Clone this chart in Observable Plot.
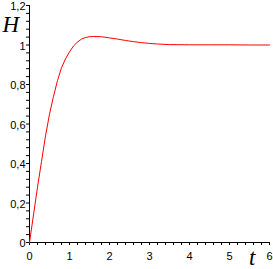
<!DOCTYPE html>
<html>
<head>
<meta charset="utf-8">
<script src="https://cdn.jsdelivr.net/npm/d3@7"></script>
<script src="https://cdn.jsdelivr.net/npm/@observablehq/plot@0.6"></script>
<style>
  html, body { margin: 0; padding: 0; background: #fff; }
  #chart svg { display: block; }
</style>
</head>
<body>
<div id="chart"></div>
<script>
const tValues = [0, 0.1, 0.2, 0.3, 0.4, 0.5, 0.6, 0.7, 0.8, 0.9, 1.0, 1.1, 1.2, 1.3, 1.4, 1.5, 1.6, 1.8, 2.0, 2.2, 2.4, 2.6, 2.8, 3.0, 3.2, 3.5, 4.0, 4.5, 5.0, 5.5, 6.0];
const hValues = [0, 0.14, 0.28, 0.41, 0.54, 0.65, 0.74, 0.82, 0.885, 0.93, 0.965, 0.995, 1.015, 1.03, 1.038, 1.042, 1.043, 1.042, 1.036, 1.03, 1.023, 1.017, 1.012, 1.008, 1.005, 1.002, 1.001, 1.001, 1.001, 1.0, 1.0];
const xTickValues = [0, 1, 2, 3, 4, 5, 6];
const yTickValues = [0, 0.2, 0.4, 0.6, 0.8, 1, 1.2];
const xLabel = "t";
const yLabel = "H";

const data = tValues.map((t, i) => ({t, h: hValues[i]}));
const xMinor = d3.range(0, 6.0001, 0.2);
const yMinor = d3.range(0, 1.2001, 0.04);
const fmt = d => String(d).replace(".", ",");

const chart = Plot.plot({
  width: 273,
  height: 269,
  marginLeft: 29,
  marginRight: 4,
  marginTop: 5,
  marginBottom: 27,
  style: {fontFamily: "Liberation Sans, Arial, sans-serif", fontSize: "11px", color: "#000", background: "#fff"},
  x: {domain: [0, 6]},
  y: {domain: [0, 1.2]},
  marks: [
    Plot.axisX(xMinor, {tickSize: 3, text: null, label: null, stroke: "#000"}),
    Plot.axisX(xTickValues, {tickSize: 0, tickPadding: 10, tickFormat: fmt, label: null, fontSize: 11}),
    Plot.axisY(yMinor, {tickSize: 3, text: null, label: null, stroke: "#000"}),
    Plot.axisY(yTickValues, {tickSize: 0, tickPadding: 4, tickFormat: fmt, label: null, fontSize: 11, dy: 1}),
    Plot.ruleX([0], {stroke: "#000"}),
    Plot.ruleY([0], {stroke: "#000"}),
    Plot.line(data, {x: "t", y: "h", stroke: "#ff0000", strokeWidth: 1}),
    Plot.text([yLabel], {frameAnchor: "top-left", dx: -27, dy: 10, text: d => d, fontFamily: "Liberation Serif, Times New Roman, serif", fontStyle: "italic", fontSize: 23}),
    Plot.text([xLabel], {frameAnchor: "bottom-right", dx: -14, dy: 22, text: d => d, fontFamily: "Liberation Serif, Times New Roman, serif", fontStyle: "italic", fontSize: 23})
  ]
});
document.getElementById("chart").appendChild(chart);
</script>
</body>
</html>
